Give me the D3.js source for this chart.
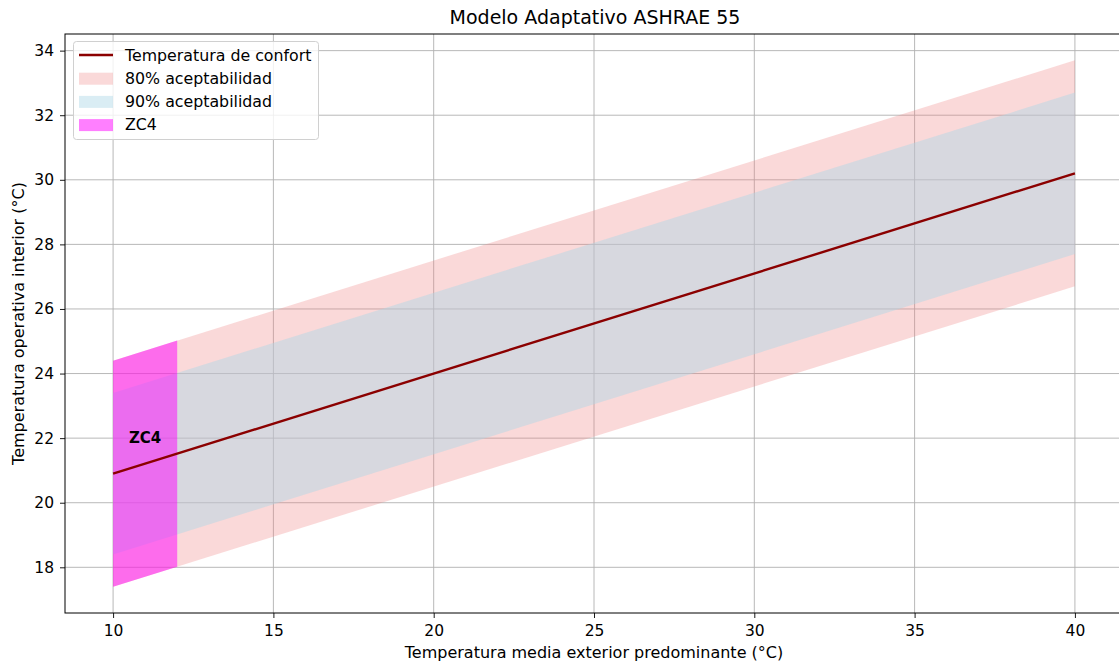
<!DOCTYPE html>
<html>
<head>
<meta charset="utf-8">
<script src="https://d3js.org/d3.v7.min.js"></script>
<style>
  body { margin: 0; background: #fff; }
  text { font-family: "DejaVu Sans", sans-serif; fill: #000; }
</style>
</head>
<body>
<svg id="chart" width="1119" height="663"></svg>
<script>
// values
var tempExt = [10, 40];
var comfort = [20.9, 30.2];
var upper80 = [24.4, 33.7];
var lower80 = [17.4, 26.7];
var upper90 = [23.4, 32.7];
var lower90 = [18.4, 27.7];

var zoneX = [10, 12];
var zoneUpper = [24.4, 25.02];
var zoneLower = [17.4, 18.02];
var zoneName = "ZC4";
var zoneLabelY = 22;

var xTicks = [10, 15, 20, 25, 30, 35, 40];
var yTicks = [18, 20, 22, 24, 26, 28, 30, 32, 34];

var legendItems = [
    { label: "Temperatura de confort", type: "line", color: "#8b0000" },
    { label: "80% aceptabilidad", type: "rect", color: "rgb(240,128,128)", op: 0.3 },
    { label: "90% aceptabilidad", type: "rect", color: "rgb(173,216,230)", op: 0.45 },
    { label: "ZC4", type: "rect", color: "#ff00ff", op: 0.5 }
];

var svg = d3.select("#chart");
var mLeft = 65, mTop = 34, mRight = 1123, mBottom = 613;

var x = d3.scaleLinear().domain([8.5, 41.5]).range([mLeft, mRight]);
var y = d3.scaleLinear().domain([16.585, 34.515]).range([mBottom, mTop]);

// grid
var grid = svg.append("g");
grid.selectAll(".gx").data(xTicks).enter().append("line")
    .attr("x1", d => x(d)).attr("x2", d => x(d))
    .attr("y1", mTop).attr("y2", mBottom)
    .attr("stroke", "#b0b0b0").attr("stroke-width", 0.9);
grid.selectAll(".gy").data(yTicks).enter().append("line")
    .attr("x1", mLeft).attr("x2", mRight)
    .attr("y1", d => y(d)).attr("y2", d => y(d))
    .attr("stroke", "#b0b0b0").attr("stroke-width", 0.9);

function band(xs, lo, hi) {
    var pts = xs.map((d, i) => ({ x: d, lo: lo[i], hi: hi[i] }));
    return d3.area().x(d => x(d.x)).y0(d => y(d.lo)).y1(d => y(d.hi))(pts);
}

svg.append("path").attr("d", band(tempExt, lower80, upper80))
    .attr("fill", "rgb(240,128,128)").attr("fill-opacity", 0.3);
svg.append("path").attr("d", band(tempExt, lower90, upper90))
    .attr("fill", "rgb(173,216,230)").attr("fill-opacity", 0.45);
svg.append("path").attr("d", band(zoneX, zoneLower, zoneUpper))
    .attr("fill", "#ff00ff").attr("fill-opacity", 0.5);

var line = d3.line().x(d => x(d[0])).y(d => y(d[1]));
svg.append("path").attr("d", line(tempExt.map((d, i) => [d, comfort[i]])))
    .attr("fill", "none").attr("stroke", "#8b0000").attr("stroke-width", 2.4);

svg.append("text")
    .attr("x", x(d3.mean(zoneX))).attr("y", y(zoneLabelY))
    .attr("text-anchor", "middle").attr("dominant-baseline", "central")
    .attr("font-size", 15).attr("font-weight", "bold")
    .text(zoneName);

// axes
var xAxis = svg.append("g").attr("transform", "translate(0," + mBottom + ")")
    .call(d3.axisBottom(x).tickValues(xTicks).tickSize(5).tickPadding(7));
var yAxis = svg.append("g").attr("transform", "translate(" + mLeft + ",0)")
    .call(d3.axisLeft(y).tickValues(yTicks).tickSize(5).tickPadding(6));
[xAxis, yAxis].forEach(function (a) {
    a.select(".domain").remove();
    a.selectAll("line").attr("stroke", "#000").attr("stroke-width", 0.9);
    a.selectAll("text").attr("font-size", 15.5).attr("font-family", "DejaVu Sans");
});

// frame
svg.append("rect").attr("x", mLeft).attr("y", mTop)
    .attr("width", mRight - mLeft).attr("height", mBottom - mTop)
    .attr("fill", "none").attr("stroke", "#000").attr("stroke-width", 1);

// titles
svg.append("text").attr("x", 595).attr("y", 24)
    .attr("text-anchor", "middle").attr("font-size", 19)
    .text("Modelo Adaptativo ASHRAE 55");
svg.append("text").attr("x", 594).attr("y", 658)
    .attr("text-anchor", "middle").attr("font-size", 16)
    .text("Temperatura media exterior predominante (°C)");
svg.append("text")
    .attr("transform", "translate(24," + ((mTop + mBottom) / 2) + ") rotate(-90)")
    .attr("text-anchor", "middle").attr("font-size", 16)
    .text("Temperatura operativa interior (°C)");

// legend
var lg = svg.append("g");
lg.append("rect").attr("x", 73.5).attr("y", 41.5).attr("width", 245).attr("height", 98)
    .attr("rx", 3).attr("fill", "#fff").attr("fill-opacity", 0.8)
    .attr("stroke", "#d0d0d0").attr("stroke-width", 1);
legendItems.forEach(function (d, i) {
    var cy = 55 + i * 23.2;
    if (d.type === "line") {
        lg.append("line").attr("x1", 79).attr("x2", 113).attr("y1", cy).attr("y2", cy)
            .attr("stroke", d.color).attr("stroke-width", 2.4);
    } else {
        lg.append("rect").attr("x", 79).attr("y", cy - 5.5).attr("width", 34).attr("height", 12)
            .attr("fill", d.color).attr("fill-opacity", d.op);
    }
    lg.append("text").attr("x", 125).attr("y", cy).attr("dominant-baseline", "central")
        .attr("font-size", 15.8).text(d.label);
});
</script>
</body>
</html>
